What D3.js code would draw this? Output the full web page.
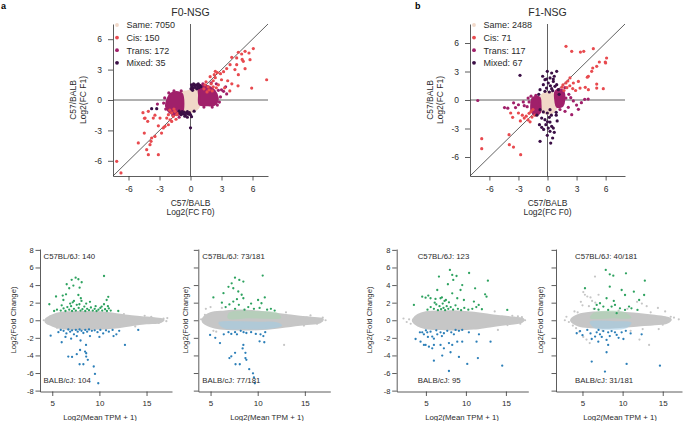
<!DOCTYPE html>
<html><head><meta charset="utf-8">
<script src="https://cdn.jsdelivr.net/npm/d3@7"></script>
<style>body{margin:0;background:#fff}svg{display:block}</style>
</head><body><svg id="c" width="687" height="421"></svg>
<script>
// ---------- tick labels / texts ----------
const topTicks = [-6, -3, 0, 3, 6];
const maXTicks = [5, 10, 15];
const maYTicks = [-8, -6, -4, -2, 0, 2, 4, 6, 8];
const titles = ["F0-NSG", "F1-NSG"];
const legendA = ["Same: 7050", "Cis: 150", "Trans: 172", "Mixed: 35"];
const legendB = ["Same: 2488", "Cis: 71", "Trans: 117", "Mixed: 67"];
const maNotes = [["C57BL/6J: 140", "BALB/cJ: 104"], ["C57BL/6J: 73/181", "BALB/cJ: 77/181"],
                 ["C57BL/6J: 123", "BALB/cJ: 95"], ["C57BL/6J: 40/181", "BALB/cJ: 31/181"]];

// ---------- panel a (F0-NSG): log2 FC F0 vs F1 ----------
const sameA = [[-0.85,-1.2],[-0.9,0.0],[-0.85,0.75],[-0.4,0.85],[0.2,0.95],[0.85,1.05],[0.9,0.2],[0.85,-0.6],[0.5,-1.0],[0.0,-1.2],[-0.5,-1.25]];
const transCoreA1 = [[0.85,1.35],[1.5,1.4],[2.1,1.1],[2.5,0.6],[2.6,-0.1],[2.3,-0.45],[1.6,-0.5],[0.9,-0.4],[0.85,0.5]];
const transCoreA2 = [[-1.9,0.6],[-1.2,0.75],[-0.85,0.6],[-0.85,-1.3],[-1.3,-1.45],[-2.0,-1.2],[-2.35,-0.6],[-2.2,0.1]];
const cisA = [[4.63,4.71],[4.95,4.54],[5.28,4.8],[5.66,4.64],[6.08,5.07],[5.76,3.98],[5.11,3.82],[4.47,4.15],[3.99,4.21],[3.83,3.49],
  [4.47,3.49],[5.28,3.09],[4.63,2.5],[7.37,2.0],[5.92,1.18],[4.3,3.0],[3.5,3.1],[3.2,2.8],[2.9,2.6],[2.6,2.7],[2.4,2.2],[3.0,2.0],
  [3.6,1.9],[4.0,1.6],[4.6,1.4],[3.3,1.2],[2.7,1.5],[2.2,1.9],[2.0,1.6],[1.7,1.3],[1.5,1.8],[1.9,2.3],[2.3,2.5],[1.3,1.1],[2.5,1.2],
  [3.8,0.9],[2.1,0.9],[1.6,0.8],[5.0,4.0],[2.4,2.83],[1.8,1.0],[2.2,1.3],[1.4,1.5],
  [-7.14,-6.05],[-6.73,-7.2],[-5.05,-4.24],[-4.47,-3.26],[-4.08,-5.4],[-4.24,-4.9],[-3.11,-5.4],[-4.4,-1.78],[-4.08,-1.12],
  [-3.44,-1.5],[-3.6,-1.78],[-4.14,-2.1],[-3.11,-2.55],[-3.44,-3.59],[-3.76,-3.75],[-3.82,-4.08],[-3.92,-4.41],[-2.8,-3.26],
  [-2.63,-2.76],[-2.95,-1.78],[-2.3,-1.78],[-2.14,-1.45],[-1.98,-1.95],[-1.82,-1.28],[-1.66,-1.61],[-1.5,-1.12],[-1.34,-1.45],
  [-1.82,-2.11],[-2.14,-2.44],[-2.47,-2.6],[-4.6,-1.25],[-4.45,-1.8],[-1.6,-0.9],[-1.2,-1.3],[-2.0,-1.0],[-1.4,-1.9]];
const transA = [[3.2,0.86],[3.5,0.6],[2.9,0.3],[2.8,-0.2],[2.6,-0.5],[2.1,-0.7],[3.0,1.0],[2.7,0.95],[2.0,1.7],[1.2,1.6],[2.5,1.6],
  [3.4,1.3],[-2.5,0.2],[-2.4,-0.9],[-2.1,0.7],[-1.6,0.9],[-2.6,-0.3],[-1.1,-1.7],[-0.9,0.9],[-3.2,-0.4],[1.3,-0.7],[-1.7,-1.5]];
const mixedA = [[0.05,1.1],[0.15,1.3],[0.25,1.15],[0.35,1.45],[0.45,1.25],[0.55,1.5],[0.6,1.1],[0.7,1.35],[0.8,1.2],[0.9,1.45],
  [1.0,1.3],[0.1,1.5],[0.3,1.6],[0.75,1.6],[0.2,0.95],[-1.1,-1.1],[-1.0,-1.3],[-0.9,-1.45],[-0.8,-1.15],[-0.7,-1.35],[-0.6,-1.2],
  [-0.5,-1.5],[-0.4,-1.3],[-0.3,-1.15],[-0.2,-1.4],[-0.1,-1.25],[0.0,-1.45],[-0.55,-1.6],[0.0,-2.75],[0.1,-1.65],[-3.76,-0.86],
  [-3.27,-0.86],[-0.3,-1.7],[0.35,-1.1]];

// ---------- panel b (F1-NSG) ----------
const sameB = [[0.1,0.85],[0.65,0.65],[0.95,0.1],[1.0,-0.5],[0.7,-1.2],[0.1,-1.45],[-0.5,-1.25],[-0.8,-0.7],[-0.85,0.0],[-0.5,0.6]];
const transCoreB1 = [[0.85,0.9],[1.3,1.1],[1.65,0.8],[1.7,0.0],[1.55,-0.6],[1.0,-0.7],[0.85,-0.2]];
const transCoreB2 = [[-1.5,0.2],[-0.85,0.25],[-0.75,-0.4],[-0.8,-1.3],[-1.2,-1.55],[-1.6,-1.2],[-1.65,-0.4]];
const cisB = [[1.91,5.65],[2.5,5.12],[3.4,5.05],[3.74,5.12],[4.73,5.4],[6.1,4.42],[5.96,4.0],[5.35,4.0],[5.08,3.54],[4.67,3.37],
  [4.56,3.02],[4.22,2.5],[4.11,2.4],[5.08,1.68],[5.08,1.26],[5.76,1.19],[4.22,1.09],[3.9,1.33],[3.36,1.26],[3.19,1.96],[2.67,1.79],
  [2.32,2.32],[1.9,1.8],[1.6,1.6],[2.0,1.3],[1.7,1.0],[2.3,1.5],[2.6,1.2],[1.5,1.35],[2.1,2.0],[6.0,3.9],[2.9,1.0],
  [-6.79,-4.07],[-6.79,-5.12],[-3.97,-3.65],[-3.94,-4.7],[-3.51,-4.96],[-2.77,-5.75],[-3.8,-1.37],[-3.6,-1.82],[-3.0,-1.37],
  [-2.6,-1.6],[-2.4,-1.9],[-2.2,-1.7],[-2.0,-2.1],[-1.9,-1.4],[-1.7,-1.2],[-1.6,-1.8],[-1.5,-1.0],[-1.3,-1.6],[-2.8,-2.2],[-1.8,-2.3]];
const transB = [[-7.2,-0.05],[-4.44,-0.8],[-4.1,-0.86],[-3.5,-0.3],[-3.3,-0.8],[-3.0,-0.5],[-2.4,-0.6],[-2.1,-0.7],[-1.9,-0.2],
  [-2.0,0.2],[-1.7,0.4],[-2.5,-0.2],[2.4,0.25],[2.67,-0.1],[3.0,-0.53],[3.19,-0.98],[3.5,-0.28],[3.84,0.07],[1.29,-1.0],
  [1.81,-1.19],[2.15,-0.77],[2.5,-1.54],[4.2,0.1],[1.9,0.2],[2.2,0.6],[1.8,1.3],[-1.2,0.5]];
const mixedB = [[-2.84,2.6],[-0.02,3.02],[0.43,2.84],[0.95,3.02],[0.26,2.32],[-0.26,2.14],[0.6,1.96],[0.08,1.79],[0.95,1.61],
  [-0.43,1.61],[-0.1,1.26],[0.43,1.19],[0.77,1.44],[-0.77,1.09],[1.12,1.09],[-0.26,0.91],[0.19,0.84],[0.53,0.98],[0.3,1.5],
  [-0.5,2.5],[0.7,2.5],[-0.77,-1.02],[-0.43,-1.26],[-0.02,-1.37],[0.26,-1.02],[-0.83,-2.6],[-0.6,-2.88],[-0.17,-2.6],[0.08,-2.95],
  [0.26,-2.32],[0.43,-2.77],[0.6,-2.95],[0.26,-3.3],[-0.02,-3.72],[-0.77,-4.35],[0.33,-4.53],[0.53,-4.0],[-0.26,-2.07],
  [0.19,-1.82],[0.9,-1.3],[1.0,-2.2],[-1.1,-1.6],[-0.9,0.6],[0.9,-1.6],[1.2,0.6],[-0.6,-1.9],[0.4,-1.6],[0.7,-3.4],[-0.4,-3.1],
  [0.0,-2.3],[-0.1,2.2],[0.6,2.2]];

// ---------- MA panels: [log2 mean TPM+1, log2 fold change] ----------
const cloudC = [[4.3,0.1],[5,0.55],[6,0.85],[8,0.95],[10,0.9],[11.5,0.75],[13,0.5],[14.5,0.35],[16,0.2],[16.8,0.05],[16.5,-0.2],
  [15,-0.35],[13.5,-0.55],[12,-0.8],[10.5,-0.95],[8,-1.0],[6,-0.9],[5,-0.6],[4.3,-0.2]];
const grayC = [[4.1,0.0],[4.6,-0.4],[4.8,0.45],[16.8,0.2],[17.1,-0.1],[16.3,-0.3],[15.5,0.4],[15.9,-0.2],[14.8,0.5],[13.8,-0.7],
  [12.6,0.7],[5.5,-0.85],[17.2,0.25]];
const greenC = [[7.48,4.84],[7.77,4.66],[7.06,4.6],[8.12,4.32],[10.49,5.03],[6.53,4.09],[7.24,3.94],[6.8,3.64],[7.9,3.7],[6.46,2.95],
  [6.11,2.8],[7.77,2.87],[8.03,2.5],[6.18,2.3],[5.4,2.7],[4.69,1.82],[7.17,2.04],[7.88,1.82],[10.94,2.66],[10.77,2.3],[10.49,1.82],
  [10.24,1.55],[12.0,1.05],[5.5,1.2],[5.9,1.1],[6.2,1.35],[6.4,1.05],[6.6,1.5],[6.8,1.2],[7.0,1.6],[7.1,1.05],[7.3,1.3],[7.5,1.1],
  [7.6,1.75],[7.8,1.4],[8.0,1.1],[8.2,1.25],[8.4,1.55],[8.5,1.05],[8.7,1.3],[8.9,1.15],[9.1,1.45],[9.3,1.1],[9.5,1.3],[9.7,1.05],
  [9.9,1.2],[10.1,1.4],[10.3,1.1],[10.6,1.25],[10.8,1.05],[11.0,1.35],[11.2,1.1],[6.0,1.7],[7.3,2.2],[8.6,1.9],[9.0,2.1],[6.9,1.9],
  [8.1,2.2],[5.2,1.05],[9.6,1.6],[10.9,1.6]];
const blueC = [[4.83,-1.75],[5.65,-1.36],[5.9,-1.1],[6.2,-1.2],[6.5,-1.5],[6.7,-1.05],[6.9,-1.3],[7.1,-1.15],[7.3,-1.6],[7.5,-1.1],
  [7.7,-1.3],[7.9,-1.05],[8.1,-1.2],[8.3,-1.45],[8.5,-1.1],[8.7,-1.3],[8.9,-1.05],[9.2,-1.2],[9.5,-1.15],[9.8,-1.35],[10.1,-1.1],
  [10.4,-1.5],[10.7,-1.15],[11.0,-1.3],[11.4,-1.1],[11.8,-1.6],[12.1,-1.2],[12.71,-2.8],[14.12,-1.1],[6.0,-2.5],[6.4,-1.9],
  [7.0,-2.1],[7.6,-1.8],[8.0,-2.3],[9.0,-1.8],[10.0,-1.9],[11.5,-1.8],[8.58,-2.8],[7.95,-3.38],[8.48,-3.56],[7.6,-3.86],
  [7.1,-4.17],[6.7,-4.13],[8.6,-3.75],[8.6,-4.13],[8.77,-4.5],[7.9,-5.0],[8.3,-5.0],[9.53,-6.1],[9.88,-7.16],[9.4,-5.26]];

const cloudD = [[4.2,0.2],[5,0.8],[6.5,1.0],[8,1.1],[10,1.0],[11.5,0.8],[13,0.6],[14.5,0.4],[16,0.25],[16.9,0.1],[16.6,-0.25],
  [15,-0.45],[13.5,-0.65],[12,-0.85],[10.5,-1.0],[8,-1.05],[6,-0.95],[5,-0.7],[4.2,-0.2]];
const lightBlueD = [[5.9,-0.3],[8,-0.2],[10,-0.25],[12,-0.3],[12.5,-0.6],[11,-0.9],[8.5,-0.95],[6.5,-0.85]];
const lightGreenD = [[6.9,0.25],[9,0.3],[11,0.25],[12.4,0.3],[12,0.8],[10,0.95],[8,1.0],[7,0.8]];
const grayD = [[4.5,1.3],[5.0,1.5],[5.3,-1.2],[4.4,0.6],[16.9,0.3],[17.2,0.0],[16.3,-0.4],[15.6,0.55],[14.9,-0.6],[12.8,-2.8],
  [13.0,0.9],[6.2,1.4],[5.6,-1.3],[4.0,0.1],[15.2,0.3]];
const greenD = [[7.59,4.84],[8.05,4.58],[8.48,4.4],[7.24,4.2],[10.53,5.08],[6.9,3.8],[7.41,3.64],[7.94,3.27],[6.37,3.08],[5.3,2.6],
  [8.3,2.9],[8.48,2.5],[7.41,2.12],[10.4,1.93],[10.75,2.6],[10.04,2.3],[7.0,1.8],[8.0,1.75],[9.0,1.5],[9.6,1.3],[10.2,1.4],
  [11.0,1.2],[11.4,1.3],[7.6,1.3],[6.6,1.5],[8.6,1.2],[9.3,1.9],[6.2,2.0],[11.8,1.1],[7.8,2.4]];
const blueD = [[4.95,-1.67],[6.0,-2.6],[6.4,-1.6],[6.9,-1.35],[7.2,-1.55],[7.6,-1.35],[7.8,-1.6],[8.2,-1.2],[8.5,-1.35],[8.8,-1.45],
  [9.3,-1.35],[9.8,-1.55],[10.3,-1.6],[10.6,-1.8],[10.8,-1.35],[10.2,-2.4],[10.7,-2.5],[8.48,-2.8],[8.4,-3.2],[8.7,-3.7],
  [7.6,-3.7],[7.2,-4.1],[7.0,-4.3],[8.7,-4.3],[8.8,-4.5],[7.65,-5.0],[8.1,-5.0],[9.1,-5.56],[9.5,-6.03],[9.6,-6.5],[9.7,-7.16],[5.5,-2.0]];

const cloudE = [[3.4,0.1],[4,0.6],[5,0.9],[7,1.0],[9,1.0],[11,0.85],[13,0.6],[14.5,0.45],[16,0.3],[17.2,0.1],[17.0,-0.2],
  [15,-0.45],[13,-0.7],[11,-0.95],[9,-1.05],[7,-1.0],[5,-0.9],[4,-0.6],[3.4,-0.15]];
const grayE = [[2.2,0.2],[2.6,-0.2],[2.9,0.1],[3.1,-0.4],[15.8,0.5],[16.5,0.45],[17.0,0.35],[17.4,0.0],[16.8,-0.4],[15.2,-0.55],
  [13.6,1.0],[14.0,-1.1]];
const greenE = [[8.0,5.72],[6.63,4.96],[8.29,5.15],[8.83,5.03],[10.4,5.37],[12.75,4.5],[8.42,4.58],[7.75,4.09],[9.54,4.0],[9.33,3.44],
  [8.29,3.06],[6.42,3.44],[11.15,3.63],[12.4,2.95],[12.58,2.68],[4.54,2.68],[4.96,2.57],[5.58,2.5],[6.2,2.42],[5.3,2.8],[6.83,2.5],
  [7.33,2.2],[7.88,2.04],[8.92,2.5],[9.75,2.3],[11.0,2.12],[11.6,1.74],[15.17,1.17],[3.5,1.74],[5.2,1.2],[5.6,1.5],[6.0,1.3],
  [6.3,1.8],[6.5,1.15],[6.7,1.6],[6.9,1.25],[7.1,1.9],[7.2,1.4],[7.4,1.15],[7.6,1.6],[7.8,1.3],[8.1,1.5],[8.4,1.2],[8.7,1.7],
  [9.0,1.3],[9.4,1.15],[9.8,1.4],[10.3,1.2],[10.8,1.3],[11.3,1.5],[12.0,1.25],[6.1,2.0],[7.0,2.6],[7.5,2.3]];
const blueE = [[4.25,-1.37],[4.54,-1.37],[4.75,-1.6],[5.17,-1.37],[5.25,-1.9],[5.58,-1.3],[5.79,-1.86],[6.0,-2.1],[6.42,-1.6],
  [6.83,-1.37],[7.25,-1.48],[7.67,-1.2],[8.17,-1.37],[8.71,-1.1],[9.13,-1.2],[9.54,-1.1],[10.37,-1.37],[3.71,-2.13],[4.33,-2.43],
  [4.75,-2.8],[4.96,-2.8],[5.38,-3.0],[5.79,-3.19],[6.0,-2.8],[6.83,-2.8],[7.25,-3.19],[7.88,-2.6],[8.29,-2.8],[8.92,-2.43],
  [9.54,-2.43],[11.33,-2.43],[11.63,-1.6],[13.08,-2.43],[8.08,-3.64],[7.04,-4.02],[6.0,-4.6],[9.13,-4.17],[10.17,-4.97],
  [11.5,-4.3],[14.54,-5.16],[7.88,-5.77],[6.3,-1.15],[7.0,-1.8],[8.5,-1.6],[5.0,-1.15]];

const cloudF = [[3.6,0.1],[4.5,0.6],[6,0.85],[8,0.9],[10,0.85],[12,0.7],[14,0.5],[15.5,0.3],[16,0.1],[15.5,-0.3],[14,-0.45],
  [12,-0.6],[10,-0.75],[8,-0.85],[6,-0.8],[4.5,-0.6],[3.6,-0.1]];
const lightBlueF = [[6,-0.2],[9,-0.2],[11,-0.3],[10.5,-0.8],[8,-1.0],[6.5,-0.8]];
const lightGreenF = [[6,0.3],[9,0.3],[11,0.3],[10,0.9],[8,1.0],[6.5,0.8]];
const grayF = [[6.56,4.96],[5.1,3.2],[5.3,2.9],[5.6,2.7],[6.0,2.6],[6.2,2.2],[4.8,2.1],[5.0,1.7],[5.8,1.6],[6.6,2.0],[7.0,2.9],
  [11.8,2.1],[12.4,1.9],[13.0,1.6],[14.4,1.4],[15.3,1.0],[16.0,0.4],[16.4,0.3],[17.0,0.1],[3.0,0.4],[3.3,-0.2],[2.8,0.0],
  [4.2,-0.9],[4.6,-1.3],[5.1,-1.9],[5.5,-2.2],[5.9,-2.6],[12.1,-2.2],[13.3,-2.8],[14.5,-1.0],[15.0,-0.5],[6.4,1.3],[4.0,1.0],
  [13.5,0.9],[10.6,1.3],[9.5,1.1],[7.5,-1.2],[11.0,-1.2],[12.5,-1.0],[4.4,0.9],[3.8,-0.6]];
const greenF = [[7.9,5.72],[8.4,5.22],[8.84,5.07],[10.42,5.33],[12.77,4.5],[5.31,3.64],[8.4,3.82],[9.88,3.44],[10.3,2.87],[11.4,3.25],
  [12.06,2.3],[12.68,2.87],[6.77,1.74],[7.18,1.93],[7.6,1.55],[8.0,2.5],[8.2,1.17],[8.63,1.55],[9.05,1.74],[9.67,1.36],
  [10.3,1.17],[10.8,1.55],[11.1,1.36],[11.85,1.17],[9.26,0.8],[7.0,1.2],[8.9,2.2],[6.5,1.3]];
const blueF = [[4.28,-1.48],[4.7,-1.23],[6.15,-2.13],[6.57,-1.86],[6.77,-1.37],[7.18,-1.6],[7.6,-1.23],[8.2,-1.37],[8.63,-1.23],
  [9.05,-1.37],[9.26,-1.67],[9.88,-1.37],[6.97,-2.43],[8.0,-2.24],[8.2,-2.8],[10.1,-2.13],[12.37,-1.6],[8.0,-3.64],[6.15,-4.7],
  [10.5,-4.97],[14.65,-5.16],[7.8,-5.84],[7.4,-1.9],[5.6,-1.1],[8.4,-1.8],[9.5,-2.0],[7.0,-1.1],[10.4,-1.2],[6.0,-1.5],[11.0,-1.5],[5.0,-1.7]];

// ---------- drawing ----------
const FONT = "'Liberation Sans', Arial, Helvetica, sans-serif";
const TXT = "#2b2b2b", AX = "#333";
const C = {same:"#f1d8c8", cis:"#e84a4f", trans:"#a0206a", mixed:"#3b0f46",
           gray:"#c6c6c6", green:"#2da25f", blue:"#2c7fb8", lgreen:"#a9d6b2", lblue:"#a3cbe3"};
const svg = d3.select("#c").attr("font-family", FONT);

function styleAxis(g, fs) {
  g.attr("font-family", FONT).attr("font-size", fs);
  g.selectAll("path,line").attr("stroke", AX).attr("stroke-width", 0.8);
  g.selectAll("text").attr("fill", TXT);
}
function dots(g, data, x, y, color, r) {
  g.append("g").selectAll("circle").data(data).join("circle")
    .attr("cx", d => x(d[0])).attr("cy", d => y(d[1])).attr("r", r).attr("fill", color);
}
function blob(g, poly, x, y, color, sw, op) {
  g.append("path").datum(poly)
    .attr("d", d3.line().x(d => x(d[0])).y(d => y(d[1])).curve(d3.curveCatmullRomClosed))
    .attr("fill", color).attr("stroke", color).attr("stroke-width", sw).attr("stroke-linejoin", "round")
    .attr("opacity", op == null ? 1 : op);
}
function text(g, s, x, y, fs, anchor, extra) {
  const t = g.append("text").attr("x", x).attr("y", y).attr("font-size", fs).attr("fill", TXT)
    .attr("text-anchor", anchor || "start").text(s);
  if (extra) extra(t);
  return t;
}

function topPanel(o) {
  const x = d3.scaleLinear().domain(o.dom).range(o.xr);
  const y = d3.scaleLinear().domain(o.dom).range(o.yr);
  const g = svg.append("g");
  const ln = (x1, y1, x2, y2) => g.append("line").attr("x1", x1).attr("y1", y1).attr("x2", x2).attr("y2", y2)
    .attr("stroke", "#3a3a3a").attr("stroke-width", 0.8);
  ln(x(0), o.yr[0], x(0), o.yr[1]);
  ln(o.xr[0], y(0), o.xr[1], y(0));
  ln(x(o.dom[0]), y(o.dom[0]), x(o.dom[1]), y(o.dom[1]));
  blob(g, o.same, x, y, C.same, 2);
  o.cores.forEach(p => blob(g, p, x, y, C.trans, 2.5));
  dots(g, o.trans, x, y, C.trans, 1.6);
  dots(g, o.cis, x, y, C.cis, 1.6);
  dots(g, o.mixed, x, y, C.mixed, 1.6);
  const ax = g.append("g").attr("transform", `translate(0,${o.yr[0]})`)
    .call(d3.axisBottom(x).tickValues(topTicks).tickFormat(d => String(d)).tickSize(4.5).tickSizeOuter(0).tickPadding(5));
  styleAxis(ax, 8.5);
  const ay = g.append("g").attr("transform", `translate(${o.xr[0]},0)`)
    .call(d3.axisLeft(y).tickValues(topTicks).tickFormat(d => String(d)).tickSize(5).tickSizeOuter(0).tickPadding(6));
  styleAxis(ay, 8.5);
  const cx = (o.xr[0] + o.xr[1]) / 2;
  text(g, o.title, cx, 16, 10.5, "middle");
  text(g, "C57/BALB", cx, 205.5, 8.5, "middle");
  text(g, "Log2(FC F0)", cx, 215, 8.5, "middle");
  text(g, "C57/BALB", 0, 0, 8.5, "middle", t => t.attr("transform", `translate(${o.ylab},100) rotate(-90)`));
  text(g, "Log2(FC F1)", 0, 0, 8.5, "middle", t => t.attr("transform", `translate(${o.ylab + 10},100) rotate(-90)`));
  text(g, o.letter, o.letterX, 9, 9, "start", t => t.attr("font-weight", "bold").attr("fill", "#000"));
  const cols = [C.same, C.cis, C.trans, C.mixed];
  o.legend.forEach((s, i) => {
    const yy = 25 + i * 12.6;
    g.append("circle").attr("cx", o.xr[0] + 4).attr("cy", yy).attr("r", 1.9).attr("fill", cols[i]);
    text(g, s, o.xr[0] + 13.5, yy + 3.3, 9, "start");
  });
}

topPanel({dom:[-7.5,7.5], xr:[113,268], yr:[176,24], same:sameA, cores:[transCoreA1, transCoreA2],
  cis:cisA, trans:transA, mixed:mixedA, title:titles[0], legend:legendA, ylab:75.5, letter:"a", letterX:1});
topPanel({dom:[-8,8], xr:[470,625], yr:[176,24], same:sameB, cores:[transCoreB1, transCoreB2],
  cis:cisB, trans:transB, mixed:mixedB, title:titles[1], legend:legendB, ylab:432.5, letter:"b", letterX:415});

function maPanel(o) {
  const x = d3.scaleLinear().domain(o.dom).range(o.xr);
  const y = d3.scaleLinear().domain([-8.1, 8.1]).range([391.5, 249]);
  const g = svg.append("g");
  blob(g, o.cloud, x, y, C.gray, 2);
  dots(g, o.gray, x, y, C.gray, 1.1);
  if (o.lblue) blob(g, o.lblue, x, y, C.lblue, 1.5, 0.6);
  if (o.lgreen) blob(g, o.lgreen, x, y, C.lgreen, 1.5, 0.55);
  dots(g, o.green, x, y, C.green, 1.15);
  dots(g, o.blue, x, y, C.blue, 1.15);
  const ax = g.append("g").attr("transform", "translate(0,391.5)")
    .call(d3.axisBottom(x).tickValues(maXTicks).tickSize(4.5).tickSizeOuter(0).tickPadding(4));
  styleAxis(ax, 8);
  const ay = g.append("g").attr("transform", `translate(${o.xr[0]},0)`)
    .call(d3.axisLeft(y).tickValues(maYTicks).tickFormat(o.ylabels ? (d => String(d)) : (() => ""))
      .tickSize(4.5).tickSizeOuter(0).tickPadding(1.8));
  styleAxis(ay, 7.5);
  text(g, "Log2(Mean TPM + 1)", o.xt, 419.5, 7.8, "middle");
  text(g, "Log2(Fold Change)", 0, 0, 7.8, "middle", t => t.attr("transform", `translate(${o.yt},320) rotate(-90)`));
  text(g, o.notes[0], o.nx, 259, 7.8, "start");
  text(g, o.notes[1], o.nx, 383, 7.8, "start");
}

maPanel({dom:[3.7,17.7], xr:[40,172], cloud:cloudC, gray:grayC, green:greenC, blue:blueC, ylabels:true,
  xt:100, yt:15.5, notes:maNotes[0], nx:43.5});
maPanel({dom:[3.7,17.7], xr:[198.3,330.3], cloud:cloudD, gray:grayD, lblue:lightBlueD, lgreen:lightGreenD,
  green:greenD, blue:blueD, ylabels:false, xt:267, yt:188, notes:maNotes[1], nx:202.3});
maPanel({dom:[1.35,17.8], xr:[396.7,528.3], cloud:cloudE, gray:grayE, green:greenE, blue:blueE, ylabels:true,
  xt:462, yt:372, notes:maNotes[2], nx:417.7});
maPanel({dom:[1.7,17.4], xr:[556,682], cloud:cloudF, gray:grayF, lblue:lightBlueF, lgreen:lightGreenF,
  green:greenF, blue:blueF, ylabels:false, xt:620, yt:542.5, notes:maNotes[3], nx:575});
</script></body></html>
